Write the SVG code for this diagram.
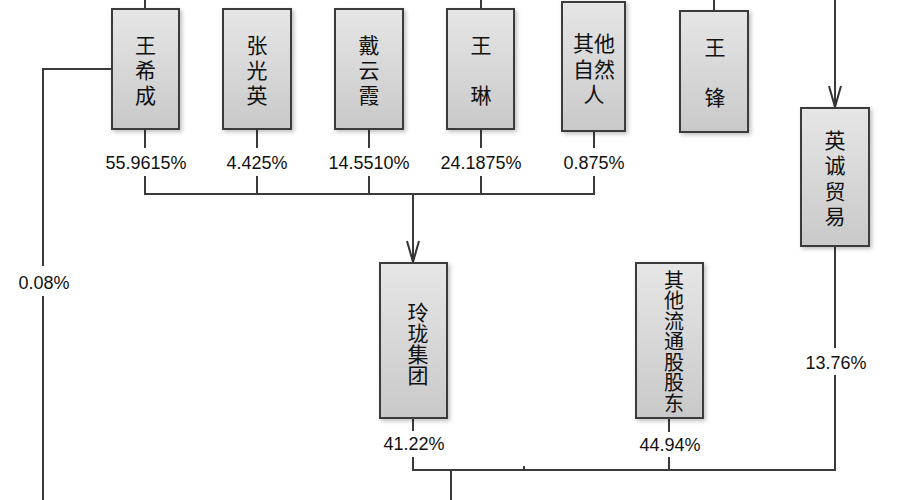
<svg xmlns="http://www.w3.org/2000/svg" width="900" height="500" viewBox="0 0 900 500">
<defs>
<linearGradient id="g" x1="0" y1="0" x2="0" y2="1">
<stop offset="0" stop-color="#e6e6e6"/>
<stop offset="1" stop-color="#c9c9c9"/>
</linearGradient>
<filter id="sh" x="-20%" y="-10%" width="140%" height="130%">
<feDropShadow dx="2" dy="2" stdDeviation="2" flood-color="#000" flood-opacity="0.25"/>
</filter>
<marker id="arr" viewBox="0 0 24 14" refX="22" refY="7" markerWidth="24" markerHeight="14" markerUnits="userSpaceOnUse" orient="auto">
<path d="M1,1 L22,7 L1,13" fill="none" stroke="#333" stroke-width="2"/>
</marker>
</defs>
<style>
.box{fill:url(#g);stroke:#3a3a3a;stroke-width:2;filter:url(#sh)}
.cn{font-family:"Noto Sans CJK SC",sans-serif;font-size:21px;fill:#111;text-anchor:middle;dominant-baseline:central}
.vt{font-family:"Noto Sans CJK SC",sans-serif;font-size:21px;fill:#111;writing-mode:vertical-rl;text-anchor:start}
.pc{font-family:"Liberation Sans",Arial,sans-serif;font-size:18px;fill:#111;text-anchor:middle;dominant-baseline:central}
.ln{fill:none;stroke:#3a3a3a;stroke-width:2}
</style>
<rect width="900" height="500" fill="#fff"/>
<g id="connectors">
<path class="ln" d="M145,0 V9"/>
<path class="ln" d="M481,0 V9"/>
<path class="ln" d="M714,0 V11"/>
<path class="ln" d="M835,0 V107" marker-end="url(#arr)"/>
<path class="ln" d="M112,69 H43 V266"/>
<path class="ln" d="M43,296 V500"/>
<path class="ln" d="M145,129 V148 M145,176 V194 H594 V176 M594,148 V131"/>
<path class="ln" d="M257,129 V148 M257,176 V194"/>
<path class="ln" d="M369,129 V148 M369,176 V194"/>
<path class="ln" d="M481,129 V148 M481,176 V194"/>
<path class="ln" d="M413,194 V262" marker-end="url(#arr)"/>
<path class="ln" d="M413,418 V431 M413,457 V470 H835 V375 M835,348 V246"/>
<path class="ln" d="M669,418 V432 M669,457 V470"/>
<path class="ln" d="M451,470 V500"/>
<path class="ln" d="M524,466 V470"/>
</g>
<g id="n-wangxicheng"><rect class="box" x="112" y="9" width="67" height="120"/>
<text class="vt" x="145.5" y="34.5" letter-spacing="4">王希成</text></g>
<g id="n-zhangguangying"><rect class="box" x="223" y="9" width="68" height="120"/>
<text class="vt" x="257" y="34.5" letter-spacing="4">张光英</text></g>
<g id="n-daiyunxia"><rect class="box" x="335" y="9" width="68" height="120"/>
<text class="vt" x="369" y="34.5" letter-spacing="4">戴云霞</text></g>
<g id="n-wanglin"><rect class="box" x="447" y="9" width="67" height="120"/>
<text class="vt" x="481" y="34.5" letter-spacing="29">王琳</text></g>
<g id="n-qitaziranren"><rect class="box" x="562" y="2" width="63" height="129"/>
<text class="cn"><tspan x="594" y="42">其他</tspan><tspan x="594" y="68">自然</tspan><tspan x="594" y="93">人</tspan></text></g>
<g id="n-wangfeng"><rect class="box" x="680" y="11" width="68" height="121"/>
<text class="vt" x="715" y="36.5" letter-spacing="29">王锋</text></g>
<g id="n-yingcheng"><rect class="box" x="801" y="108" width="68" height="138"/>
<text class="vt" x="835" y="129.5" letter-spacing="4.3">英诚贸易</text></g>
<g id="n-linglong"><rect class="box" x="380" y="263" width="67" height="155"/>
<text class="vt" x="418" y="301.5" letter-spacing="0">玲珑集团</text></g>
<g id="n-qitaliutong"><rect class="box" x="636" y="263" width="67" height="155"/>
<text class="vt" x="674" y="270" style="font-size:20px" letter-spacing="0.5">其他流通股股东</text></g>
<g id="labels">
<text class="pc" x="146" y="163">55.9615%</text>
<text class="pc" x="257" y="163">4.425%</text>
<text class="pc" x="369" y="163">14.5510%</text>
<text class="pc" x="481" y="163">24.1875%</text>
<text class="pc" x="594" y="163">0.875%</text>
<text class="pc" x="44" y="283">0.08%</text>
<text class="pc" x="414" y="444">41.22%</text>
<text class="pc" x="670" y="445">44.94%</text>
<text class="pc" x="836" y="363">13.76%</text>
</g>
</svg>
